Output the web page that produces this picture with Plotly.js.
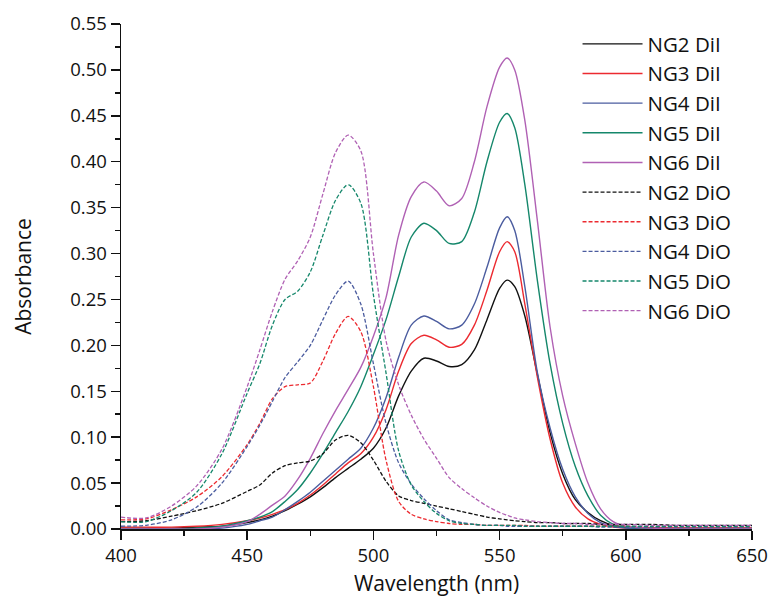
<!DOCTYPE html>
<html>
<head>
<meta charset="utf-8">
<script src="https://cdn.plot.ly/plotly-3.0.1.min.js"></script>
<style>html,body{margin:0;padding:0;background:#fff;}#chart{width:768px;height:606px;}</style>
</head>
<body>
<div id="chart"></div>
<script>
// Wavelength grid (nm)
const wavelength = [400,410,420,430,440,450,455,460,465,470,475,480,485,490,495,500,505,510,515,520,525,530,535,540,545,550,553,556,560,565,570,575,580,585,590,595,600,610,620,630,640,650];

// DiI absorbance (solid)
const ng2DiI = [0.001,0.001,0.001,0.002,0.003,0.007,0.010,0.014,0.020,0.027,0.035,0.045,0.056,0.066,0.076,0.088,0.110,0.145,0.172,0.186,0.183,0.177,0.179,0.195,0.228,0.262,0.271,0.264,0.232,0.168,0.105,0.060,0.032,0.018,0.009,0.004,0.002,0.001,0.001,0.001,0.001,0.001];
const ng3DiI = [0.002,0.002,0.002,0.003,0.005,0.009,0.012,0.016,0.021,0.028,0.037,0.048,0.060,0.072,0.082,0.100,0.130,0.172,0.202,0.211,0.206,0.198,0.201,0.222,0.260,0.302,0.313,0.302,0.245,0.165,0.098,0.050,0.024,0.011,0.005,0.002,0.001,0.001,0.001,0.001,0.001,0.001];
const ng4DiI = [0.000,0.000,0.000,0.000,0.001,0.005,0.009,0.013,0.021,0.030,0.040,0.052,0.064,0.076,0.088,0.110,0.143,0.187,0.222,0.232,0.226,0.218,0.222,0.245,0.285,0.328,0.340,0.325,0.264,0.170,0.110,0.065,0.035,0.017,0.007,0.003,0.001,0.000,0.000,0.000,0.000,0.000];
const ng5DiI = [0.000,0.000,0.000,0.001,0.003,0.009,0.013,0.019,0.030,0.043,0.061,0.082,0.105,0.128,0.155,0.190,0.228,0.275,0.318,0.333,0.325,0.311,0.313,0.345,0.400,0.443,0.4525,0.437,0.375,0.270,0.180,0.115,0.068,0.036,0.015,0.005,0.002,0.001,0.000,0.000,0.000,0.000];
const ng6DiI = [0.000,0.000,0.000,0.000,0.002,0.008,0.016,0.026,0.036,0.054,0.077,0.104,0.129,0.152,0.176,0.210,0.252,0.320,0.362,0.378,0.368,0.352,0.360,0.400,0.460,0.503,0.513,0.500,0.445,0.335,0.220,0.145,0.093,0.050,0.022,0.008,0.003,0.001,0.000,0.000,0.000,0.000];

// DiO absorbance (dashed)
const ng2DiO = [0.008,0.009,0.014,0.020,0.028,0.041,0.048,0.061,0.069,0.072,0.074,0.082,0.097,0.102,0.094,0.075,0.052,0.036,0.031,0.028,0.025,0.022,0.019,0.016,0.013,0.011,0.010,0.009,0.008,0.007,0.007,0.006,0.006,0.006,0.005,0.005,0.005,0.005,0.004,0.004,0.004,0.004];
const ng3DiO = [0.010,0.011,0.021,0.035,0.057,0.092,0.115,0.142,0.155,0.157,0.159,0.183,0.213,0.2315,0.215,0.155,0.075,0.030,0.016,0.011,0.008,0.006,0.005,0.005,0.004,0.004,0.004,0.004,0.004,0.003,0.003,0.003,0.003,0.003,0.003,0.003,0.003,0.002,0.002,0.002,0.002,0.002];
const ng4DiO = [0.003,0.004,0.010,0.024,0.050,0.090,0.113,0.139,0.165,0.182,0.200,0.228,0.255,0.270,0.245,0.180,0.115,0.072,0.049,0.033,0.020,0.010,0.007,0.005,0.004,0.004,0.003,0.003,0.003,0.003,0.003,0.003,0.003,0.003,0.002,0.002,0.002,0.002,0.002,0.002,0.002,0.002];
const ng5DiO = [0.008,0.008,0.020,0.040,0.082,0.148,0.180,0.222,0.250,0.259,0.280,0.320,0.358,0.375,0.355,0.255,0.170,0.085,0.048,0.030,0.017,0.009,0.006,0.005,0.004,0.004,0.004,0.004,0.003,0.003,0.003,0.003,0.003,0.003,0.003,0.003,0.003,0.003,0.003,0.003,0.003,0.003];
const ng6DiO = [0.013,0.012,0.025,0.047,0.087,0.155,0.195,0.237,0.272,0.292,0.318,0.365,0.410,0.429,0.412,0.300,0.205,0.157,0.124,0.098,0.077,0.056,0.044,0.034,0.025,0.018,0.015,0.012,0.010,0.008,0.007,0.006,0.006,0.005,0.005,0.005,0.005,0.004,0.004,0.004,0.004,0.004];

const seriesNames = ['NG2 DiI','NG3 DiI','NG4 DiI','NG5 DiI','NG6 DiI','NG2 DiO','NG3 DiO','NG4 DiO','NG5 DiO','NG6 DiO'];
const seriesValues = [ng2DiI, ng3DiI, ng4DiI, ng5DiI, ng6DiI, ng2DiO, ng3DiO, ng4DiO, ng5DiO, ng6DiO];
const palette = ['#111111','#ec2a30','#4b5c9f','#15876b','#b061b4'];

const FONT = 'Open Sans, Noto Sans, DejaVu Sans, sans-serif';

const traces = seriesNames.map((name, i) => ({
  x: wavelength,
  y: seriesValues[i],
  name: name,
  type: 'scatter',
  mode: 'lines',
  line: {
    color: palette[i % 5],
    width: i < 5 ? 1.4 : 1.3,
    dash: i < 5 ? 'solid' : '4px,2px',
    shape: 'spline',
    smoothing: 0.8
  }
}));

const layout = {
  width: 768,
  height: 606,
  margin: {l: 121, r: 16, t: 24, b: 77},
  paper_bgcolor: '#ffffff',
  plot_bgcolor: '#ffffff',
  font: {family: FONT, color: '#111111'},
  showlegend: true,
  legend: {
    x: 0.7235, xanchor: 'left',
    y: 1.0, yanchor: 'top',
    bgcolor: 'rgba(0,0,0,0)',
    font: {family: FONT, size: 20.5, color: '#111111'},
    itemwidth: 60,
    tracegroupgap: 0
  },
  xaxis: {
    range: [400, 650],
    tick0: 400, dtick: 50,
    ticks: 'outside', ticklen: 9, tickwidth: 1.5, tickcolor: '#111111',
    showline: true, linewidth: 1.5, linecolor: '#111111',
    showgrid: false, zeroline: false,
    minor: {dtick: 25, ticks: 'outside', ticklen: 5, tickwidth: 1.5, tickcolor: '#111111', showgrid: false},
    tickfont: {family: FONT, size: 18.5, color: '#111111'},
    title: {text: 'Wavelength (nm)', font: {family: FONT, size: 21, color: '#111111'}, standoff: 10}
  },
  yaxis: {
    range: [0, 0.55],
    tick0: 0, dtick: 0.05, tickformat: '.2f',
    ticks: 'outside', ticklen: 9, tickwidth: 1.5, tickcolor: '#111111',
    showline: true, linewidth: 1.5, linecolor: '#111111',
    showgrid: false, zeroline: false,
    minor: {dtick: 0.025, ticks: 'outside', ticklen: 5, tickwidth: 1.5, tickcolor: '#111111', showgrid: false},
    tickfont: {family: FONT, size: 18.5, color: '#111111'},
    title: {text: 'Absorbance', font: {family: FONT, size: 21, color: '#111111'}, standoff: 33}
  }
};

Plotly.newPlot('chart', traces, layout, {displayModeBar: false, staticPlot: true});
</script>
</body>
</html>
